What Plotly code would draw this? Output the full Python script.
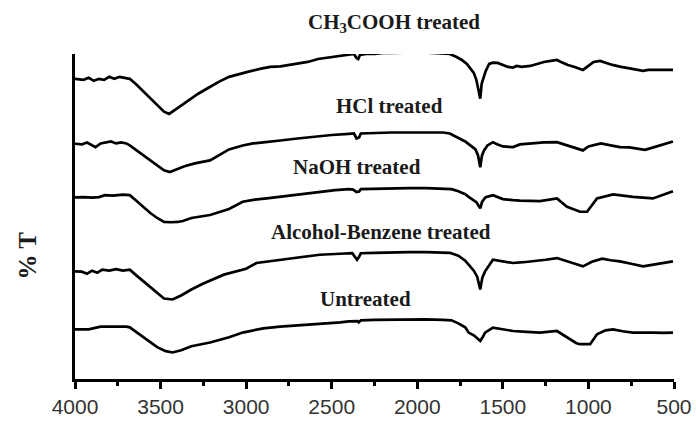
import plotly.graph_objects as go

# FTIR spectra of treated fibres, stacked vertically (arbitrary %T units)

wn_ch3cooh = [4000, 3950, 3920, 3890, 3860, 3830, 3800, 3770, 3740, 3710, 3680, 3640, 3600, 3560,
              3520, 3480, 3450, 3420, 3380, 3330, 3280, 3220, 3160, 3100, 3040, 2980, 2920, 2860,
              2800, 2740, 2690, 2640, 2580, 2520, 2460, 2400, 2370, 2355, 2345, 2335, 2300, 2250,
              2200, 2150, 2100, 2050, 2000, 1950, 1900, 1850, 1810, 1770, 1740, 1710, 1690, 1670,
              1655, 1645, 1632, 1624, 1612, 1600, 1580, 1558, 1530, 1500, 1470, 1441, 1420, 1390,
              1341, 1300, 1260, 1220, 1184, 1160, 1120, 1080, 1032, 1000, 970, 932, 900, 860, 816,
              780, 740, 700, 681, 650, 600, 550, 506]
t_ch3cooh = [302, 301, 303, 300, 302, 301, 304, 302, 304, 303, 302, 296, 289, 282,
             275, 269, 266.7, 270, 275, 281, 287, 293, 299, 304, 307, 309.5, 312, 314,
             314.5, 316, 317, 319, 322, 323.5, 325, 327, 327, 323, 322, 326, 327, 327,
             328, 328, 328, 328.5, 329, 328.5, 328, 327.5, 327, 324, 321, 317, 313, 308,
             301, 293, 282, 297, 305, 310, 317, 318.3, 318, 316, 314, 313.3, 315, 314,
             315, 317, 319, 320, 321, 319, 316, 314, 311, 315, 319, 320, 318, 316, 314.3,
             313, 312, 310, 310, 311, 311, 311, 311]

wn_hcl = [4000, 3960, 3930, 3900, 3880, 3850, 3820, 3790, 3760, 3730, 3700, 3680, 3640, 3600,
          3560, 3520, 3480, 3446, 3410, 3360, 3300, 3211, 3150, 3100, 3020, 2960, 2900, 2860,
          2800, 2700, 2600, 2500, 2400, 2370, 2355, 2340, 2330, 2250, 2150, 2050, 1950, 1850,
          1810, 1760, 1720, 1690, 1660, 1645, 1632, 1622, 1610, 1590, 1558, 1530, 1500, 1441,
          1400, 1330, 1260, 1184, 1140, 1080, 1032, 1000, 927, 870, 816, 760, 700, 670, 640,
          600, 560, 506]
t_hcl = [236.7, 236, 238, 235, 233.3, 237, 238, 239, 237, 238, 237, 235, 230, 225,
         220, 215, 210, 208.3, 211, 214, 217, 220, 226, 231, 235, 237, 238, 239,
         240, 242, 244, 245.5, 246.7, 247, 242, 243, 247, 247.5, 248, 248, 248, 248,
         247, 243, 239, 235, 231, 225, 213, 225, 230, 235, 238.3, 236, 234, 233.3,
         236, 237, 238, 238.3, 236, 233, 230, 234, 237, 235, 233.3, 233, 231, 230.5, 232,
         234, 236, 239]

wn_naoh = [4000, 3950, 3900, 3860, 3825, 3780, 3720, 3680, 3640, 3600, 3560, 3520, 3480, 3440,
           3400, 3370, 3320, 3211, 3100, 3020, 2950, 2880, 2802, 2700, 2570, 2480, 2400, 2375,
           2355, 2340, 2330, 2250, 2150, 2050, 1950, 1850, 1800, 1760, 1720, 1700, 1680, 1655,
           1632, 1622, 1610, 1600, 1558, 1530, 1500, 1441, 1400, 1283, 1184, 1125, 1049, 1008,
           950, 856, 740, 623, 506]
t_naoh = [182.7, 183, 182.5, 183, 185, 184.5, 185.5, 185, 179, 173, 167, 162, 158, 157.7,
          158, 159, 162, 165, 171, 178.3, 180.5, 181.7, 183.3, 185, 188.3, 190, 191, 190.5,
          188, 188.5, 191, 191.5, 192, 192, 192, 191.5, 191, 189, 186, 183.3, 181, 178,
          171.7, 178, 181, 183, 185, 183, 181, 180, 179.5, 179, 181.7, 173.3, 168.3, 168.3,
          181.7, 185.7, 183.3, 181.7, 189]

wn_alcbenz = [4000, 3960, 3930, 3900, 3870, 3840, 3800, 3760, 3720, 3680, 3640, 3600, 3560, 3520,
              3480, 3430, 3380, 3320, 3250, 3130, 3000, 2940, 2802, 2700, 2570, 2450, 2380, 2365,
              2352, 2340, 2330, 2250, 2150, 2050, 1950, 1850, 1810, 1760, 1720, 1700, 1670, 1650,
              1632, 1620, 1604, 1558, 1500, 1441, 1380, 1330, 1250, 1184, 1100, 1032, 980, 920,
              870, 816, 750, 681, 620, 560, 506]
t_alcbenz = [108.3, 108, 106, 109, 107, 110, 109, 110.5, 109, 110, 104, 98, 92, 86,
             81, 80, 84, 90, 96, 105, 111, 116.7, 120, 122, 125, 126, 126.7, 123,
             120, 123, 126.5, 127, 127.5, 127.7, 127.7, 127.5, 127, 124, 119, 115, 109, 103,
             90, 102, 108.3, 120, 118, 116.7, 117.5, 118.3, 120, 121.7, 117, 113.3, 118, 121,
             119.5, 118.3, 116, 113.3, 115, 117, 118.3]

wn_untreated = [4000, 3920, 3850, 3780, 3700, 3680, 3640, 3600, 3560, 3520, 3470, 3430, 3380, 3320,
                3211, 3100, 3020, 2900, 2802, 2700, 2570, 2450, 2400, 2350, 2342, 2330, 2250, 2100,
                1950, 1850, 1800, 1760, 1720, 1700, 1670, 1650, 1632, 1615, 1604, 1558, 1500, 1441,
                1360, 1283, 1184, 1125, 1070, 1049, 990, 950, 900, 856, 800, 740, 680, 623, 560, 506]
t_untreated = [50, 50, 52.7, 53, 52.7, 52, 47, 42, 37, 32, 28, 26.7, 29, 33,
               36.7, 42, 46.7, 51, 52.7, 54, 55, 57, 58, 58.3, 57, 59, 59.5, 60,
               60, 59.5, 59, 56, 52, 46.7, 44, 41, 38.3, 43, 46.7, 51.7, 50, 48.3,
               47.5, 46.7, 48.3, 41.7, 36, 35, 35, 45, 49, 50, 48, 46.7, 47, 46.7, 46.5, 46.7]

series_x = [wn_ch3cooh, wn_hcl, wn_naoh, wn_alcbenz, wn_untreated]
series_y = [t_ch3cooh, t_hcl, t_naoh, t_alcbenz, t_untreated]

labels = ["CH<sub>3</sub>COOH treated", "HCl treated", "NaOH treated",
          "Alcohol-Benzene treated", "Untreated"]
label_wn = [2136, 2160, 2352, 2212, 2300]
label_t = [358, 275, 213, 148, 80]

x_ticks = [4000, 3500, 3000, 2500, 2000, 1500, 1000, 500]
y_range = [0, 327]

fig = go.Figure()
for xs, ys in zip(series_x, series_y):
    fig.add_trace(go.Scatter(x=xs, y=ys, mode="lines",
                             line=dict(color="black", width=2.7),
                             showlegend=False, hoverinfo="skip"))

# spectrum names; the topmost one sits above the axis range, so it is placed on the paper
for text, lx, ly in zip(labels, label_wn, label_t):
    on_paper = ly > y_range[1]
    fig.add_annotation(x=lx, y=(ly - y_range[0]) / (y_range[1] - y_range[0]) if on_paper else ly,
                       xref="x", yref="paper" if on_paper else "y",
                       text="<b>" + text + "</b>", showarrow=False,
                       font=dict(family="Liberation Serif", size=21, color="#1a1a1a"),
                       xanchor="center", yanchor="middle")

fig.add_annotation(x=-0.08, y=0.38, xref="paper", yref="paper", text="<b>% T</b>",
                   showarrow=False, textangle=-90,
                   font=dict(family="Liberation Serif", size=25, color="#1a1a1a"),
                   xanchor="center", yanchor="middle")

fig.update_xaxes(range=[4000, 500], tickvals=x_ticks, showline=True, linecolor="black",
                 linewidth=3, ticks="outside", ticklen=7, tickwidth=3, tickcolor="black",
                 tickfont=dict(family="Arial", size=21, color="#333333"),
                 minor=dict(tickvals=[3750, 3250, 2750, 2250, 1750, 1250, 750],
                            ticks="outside", ticklen=4, tickwidth=3, tickcolor="black"),
                 showgrid=False, zeroline=False, automargin=False)
fig.update_yaxes(range=y_range, showline=True, linecolor="black", linewidth=3,
                 showticklabels=False, ticks="", showgrid=False, zeroline=False,
                 automargin=False)

fig.update_layout(width=696, height=421, margin=dict(l=75, r=22, t=54, b=42),
                  plot_bgcolor="white", paper_bgcolor="white")

fig.write_html("out.html")
